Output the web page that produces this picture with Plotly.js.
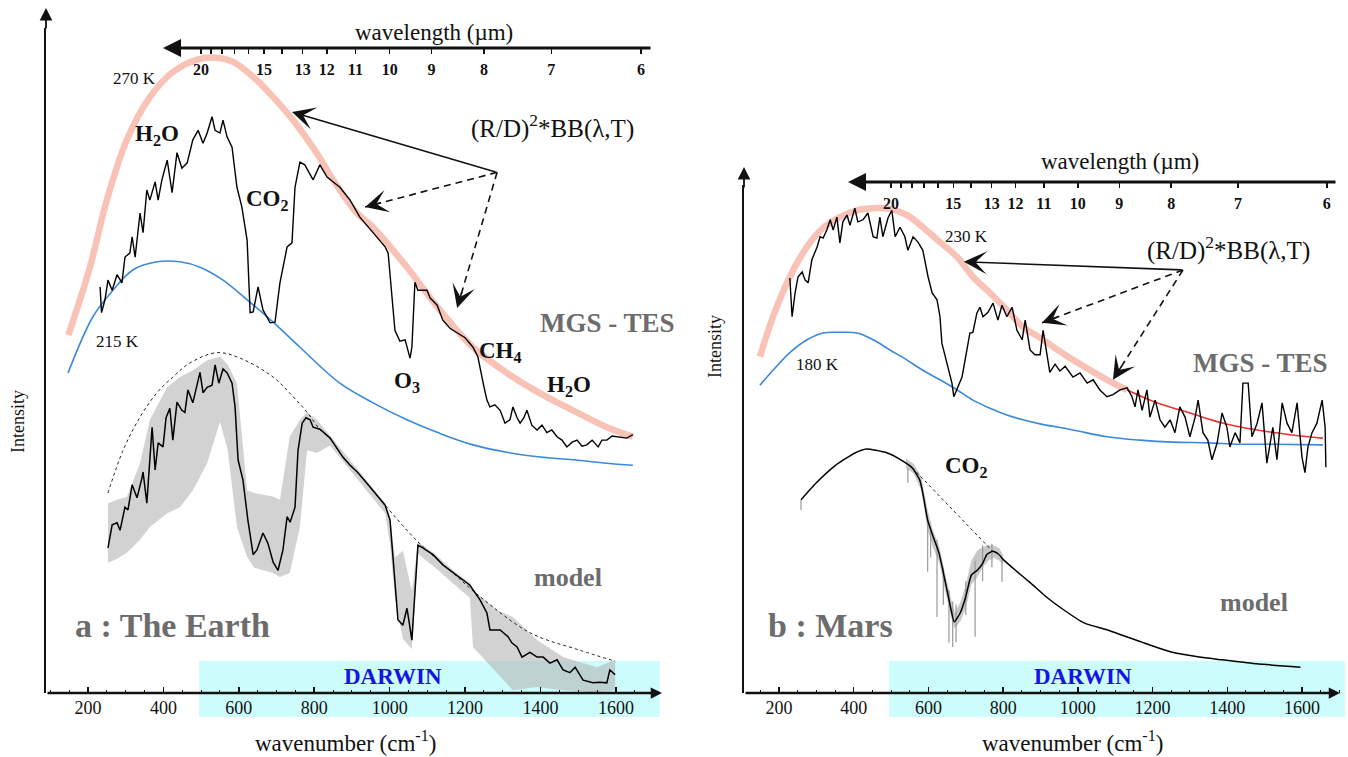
<!DOCTYPE html>
<html><head><meta charset="utf-8">
<script src="https://cdn.plot.ly/plotly-3.0.1.min.js"></script>
<style>html,body{margin:0;padding:0;background:#fff}</style>
</head><body><div id="chart" style="width:1348px;height:757px"></div>
<script>
// ---------------- Earth (panel a) ----------------
const earthBB270Wn = [148,205,250,303,364,425,488,541,585,638,691,744,807,850,913,956,1046,1133,1221,1311,1399,1486,1576,1645];
const earthBB270   = [52.8,62.8,72.7,81.6,87.9,91.6,93.4,93.7,93.1,90.9,87.9,84.5,79.6,75.7,70.8,68.7,62.8,56.5,51.0,47.2,44.2,41.7,39.2,37.8];
const earthBB215Wn = [147,213,266,319,383,444,497,558,622,691,762,868,956,1046,1133,1221,1311,1399,1486,1576,1645];
const earthBB215   = [47.2,55.5,59.4,62.4,63.6,63.6,62.8,60.9,58.0,54.7,51.0,45.7,42.8,40.3,38.3,36.6,35.5,34.8,34.4,33.9,33.6];
const earthTesWn = [232,236,245,253,264,277,290,298,311,317,325,338,346,356,364,378,386,396,410,423,436,449,463,478,492,505,516,529,537,550,558,569,582,595,608,622,630,638,651,664,683,696,709,728,741,749,762,775,797,815,834,868,895,921,956,988,996,1006,1014,1027,1041,1054,1059,1067,1075,1099,1107,1126,1141,1160,1179,1200,1221,1234,1248,1258,1266,1279,1293,1306,1319,1327,1338,1346,1356,1364,1377,1391,1404,1417,1430,1444,1457,1470,1484,1497,1510,1523,1537,1553,1563,1576,1590,1603,1616,1629,1645];
const earthTes   = [59.9,56.1,58.0,60.9,59.4,61.7,60.5,64.3,64.9,67.3,64.3,70.8,67.9,74.2,72.7,75.4,72.7,75.7,78.6,73.8,79.7,77.4,78.2,81.6,83.0,81.1,82.6,85.0,83.0,82.6,84.5,82.0,80.5,74.6,71.7,66.8,56.1,56.2,59.9,56.5,54.6,54.7,60.5,65.8,66.4,74.6,78.3,77.9,75.7,77.9,76.1,74.6,72.7,70.2,67.9,65.8,64.9,58.0,53.5,51.9,52.1,49.4,51.0,60.6,59.4,59.4,58.3,57.2,55.0,53.8,53.1,52.4,51.0,49.6,45.7,43.2,42.2,42.5,41.7,39.8,40.3,42.2,40.6,39.8,40.6,41.7,39.5,38.8,39.5,38.4,38.8,37.8,37.3,36.3,37.0,37.3,36.4,36.6,37.3,36.3,37.3,37.3,37.9,37.8,37.6,37.6,38.1];
const earthModelWn = [253,264,277,285,298,306,317,330,343,346,356,370,378,386,399,407,417,425,436,449,457,465,478,489,497,505,516,529,537,547,558,569,582,590,598,611,624,638,648,664,677,691,704,717,728,736,749,757,768,778,789,797,815,842,876,895,916,948,988,1001,1014,1022,1035,1046,1059,1067,1075,1088,1115,1141,1168,1195,1213,1240,1258,1266,1293,1314,1324,1338,1351,1372,1391,1407,1425,1444,1460,1478,1492,1513,1539,1558,1576,1584,1598];
const earthModel   = [21.4,24.8,25.1,24.0,27.4,27.0,30.7,28.8,31.7,32.6,28.0,39.2,32.9,36.9,36.3,40.6,42.0,37.3,42.9,41.7,41.4,44.7,42.8,45.7,47.3,44.3,45.1,45.4,48.4,45.7,47.8,47.2,45.7,42.2,34.4,31.4,25.5,20.4,21.1,23.6,22.1,19.3,18.1,21.1,26.0,25.2,27.4,35.8,39.8,40.6,40.3,39.2,38.9,37.6,34.8,33.6,32.5,30.4,27.7,25.5,16.7,10.8,10.0,12.5,7.8,14.2,21.8,21.4,20.4,18.9,17.8,16.7,15.9,13.7,11.8,9.3,9.3,8.3,7.4,6.8,5.3,6.0,5.3,5.3,4.4,4.9,3.4,3.0,3.8,1.9,1.5,1.6,1.5,3.4,2.7];
const earthEnvWn = [253,293,338,383,425,471,542,603,691,744,781,815,842,876,916,948,988,1075,1160,1240,1372,1505,1598];
const earthEnv   = [29.5,35.8,40.7,44.3,46.6,48.7,50.2,49.4,46.6,43.7,41.4,38.9,37.6,34.8,32.5,30.4,27.7,22.3,18.1,14.2,8.9,6.3,4.7];
const earthHiresWn = [253,277,303,338,364,410,444,478,516,550,570,595,622,640,690,709,735,762,781,807,842,900,988,1001,1014,1035,1059,1075,1120,1180,1213,1221,1285,1327,1391,1460,1550,1598];
const earthHiresHi = [28.0,28.5,28.9,33.9,40.3,45.1,46.6,47.6,49.1,49.6,48.5,45.7,29.9,29.5,29.0,28.5,37.8,40.3,41.4,40.3,38.0,34.0,28.0,26.0,20.0,21.0,15.0,22.3,20.5,17.5,16.3,15.2,12.2,11.2,7.8,5.3,3.8,4.9];
const earthHiresLo = [19.2,19.8,20.7,22.6,24.5,26.5,27.4,29.9,33.9,40.0,36.0,24.5,20.1,18.5,17.7,17.1,17.7,24.5,35.8,35.4,36.5,32.5,26.5,22.0,14.0,8.0,6.5,20.5,18.5,15.6,14.0,6.8,3.0,0.4,0.9,0.4,0.1,0.4];

// ---------------- Mars (panel b) ----------------
const marsBB230Wn = [149,184,229,275,318,363,409,452,497,543,585,631,677,719,765,810,853,899,979,1078,1132,1212,1300,1389,1480,1568,1656];
const marsBB230   = [49.6,55.5,61.4,65.8,68.6,70.2,71.2,71.5,71.4,70.5,68.7,66.5,64.3,61.4,59.0,56.5,54.0,52.4,49.4,46.2,44.7,42.8,41.3,39.8,38.8,38.1,37.6];
const marsBB180Wn = [149,184,229,275,318,363,409,452,497,543,585,631,677,719,765,810,853,899,987,1078,1166,1255,1346,1434,1522,1656];
const marsBB180   = [45.4,47.6,50.2,52.1,53.1,53.2,53.1,52.1,50.6,49.1,47.6,46.2,44.7,43.2,42.0,41.0,40.3,39.7,38.8,37.8,37.3,37.0,36.9,36.7,36.7,36.6];
const marsTesWn = [229,235,243,251,262,270,278,288,302,310,318,328,337,345,355,363,371,382,390,403,411,425,438,452,462,470,478,492,502,511,524,537,545,559,572,585,599,610,623,631,636,650,663,668,679,690,703,711,719,730,738,746,759,773,786,797,810,824,837,851,859,872,885,899,907,917,925,939,952,966,987,1006,1025,1041,1059,1078,1094,1113,1132,1145,1153,1161,1172,1185,1193,1207,1220,1233,1247,1260,1273,1287,1300,1314,1322,1335,1348,1359,1373,1386,1399,1407,1421,1434,1442,1456,1466,1480,1493,1506,1515,1522,1533,1547,1560,1573,1587,1600,1608,1616,1627,1640,1654,1662,1664];
const marsTes   = [61.2,55.5,59.0,61.4,62.1,60.9,60.5,63.9,65.8,67.3,67.1,68.3,69.8,68.3,70.2,66.4,69.5,70.5,69.0,71.5,69.5,69.8,70.8,67.3,67.1,70.2,67.3,70.1,71.2,67.3,68.7,67.3,65.3,67.3,66.5,65.3,61.4,59.0,58.0,55.5,51.6,48.7,45.7,43.7,45.1,46.6,50.6,53.1,53.2,56.1,56.9,55.5,56.1,57.5,55.0,57.2,55.5,56.9,53.5,52.1,55.0,50.6,49.9,49.9,53.5,49.9,47.3,48.5,47.5,48.2,46.6,47.2,45.7,46.2,44.7,43.7,44.0,44.7,45.0,43.7,42.2,44.7,41.7,44.7,40.7,43.2,40.3,39.2,40.3,38.4,42.2,40.7,37.8,40.7,43.2,38.4,37.3,34.4,36.9,41.3,39.2,36.3,38.4,36.9,45.7,45.7,37.8,39.8,42.8,33.9,36.9,39.2,34.4,42.8,39.8,38.4,42.8,34.8,32.5,36.3,38.4,39.8,43.2,39.2,33.3];
const marsModelWn = [259,300,352,403,434,485,526,557,577,587,598,613,628,644,659,669,685,700,715,731,746,756,772,787,802,833,874,915,956,1018,1079,1171,1253,1325,1386,1478,1596];
const marsModel   = [28.5,31.0,33.6,35.4,36.0,35.5,34.4,33.2,31.4,28.9,25.5,23.0,20.7,16.7,12.7,10.5,11.8,14.2,17.4,18.1,19.2,20.4,20.9,20.5,19.6,18.1,16.2,14.2,12.5,10.3,9.3,7.5,6.0,5.3,4.9,4.3,3.8];
const marsEnvWn = [557,772];
const marsEnv   = [33.2,20.9];
const marsHiresWn = [540,560,580,598,612,630,645,660,670,685,700,715,730,745,760,775,790,800];
const marsHiresHi = [34.6,33.8,32.0,27.0,24.0,21.5,17.5,13.8,11.8,13.3,16.0,19.5,21.0,21.5,21.8,21.8,21.3,20.3];
const marsHiresLo = [33.2,32.4,30.0,24.0,21.5,19.0,15.0,11.3,9.5,10.5,12.5,16.0,17.0,18.5,19.5,20.0,19.5,19.0];
const marsLineWn  = [259,545,598,606,623,640,655,665,674,700,725,745,770,797];
const marsLineTop = [28.5,33.2,25.5,24.5,22.6,18.5,15.2,13.5,13.0,16.5,19.5,21.8,22.0,19.6];
const marsLineBot = [27.0,31.0,17.9,20.0,11.2,13.0,7.4,6.8,7.5,11.5,8.3,16.5,18.5,16.4];

// wavelength scale (micrometres) and the DARWIN band (cm-1)
const wlMarks   = [20,19,18,17,16,15,14,13,12,11,10,9,8,7,6];
const wlLabeled = [20,15,13,12,11,10,9,8,7,6];
const darwinBand = [495,1716];

// ---------------- figure ----------------
const W = 1348, H = 757;
const FONT = 'Liberation Serif, "Times New Roman", Times, serif';
const GRAYTXT = '#6c6c6c';
const ORANGE = 'rgba(240,120,95,0.45)';
const BLUE = '#3a8ad8';

const xRangeL = [88.6, 1717], xRangeR = [106.3, 1715.2];
const xDomL = [46/W, 660/W], xDomR = [744/W, 1345/W];
const yRangeL = [0, 98.09], yRangeR = [0, 74.93];
const yDomL = [64/H, 729/H], yDomR = [64/H, 572/H];

const wlVals = wlMarks.map(l => 1e4 / l);
const wlText = wlMarks.map(l => wlLabeled.includes(l) ? '<b>' + l + '</b>' : '');

function ln(x, y, xa, ya, color, width, extra) {
  return Object.assign({type:'scatter', mode:'lines', x, y, xaxis:xa, yaxis:ya,
    line:{color, width}, hoverinfo:'skip', showlegend:false}, extra || {});
}
function band(x, lo, hi, xa, ya, fill) {
  return [
    ln(x, lo, xa, ya, 'rgba(0,0,0,0)', 0),
    ln(x, hi, xa, ya, 'rgba(0,0,0,0)', 0, {fill:'tonexty', fillcolor:fill})
  ];
}
const filt = (xs, ys, f) => { const X=[],Y=[]; xs.forEach((v,i)=>{ if(f(v)){X.push(v);Y.push(ys[i]);} }); return [X,Y]; };

const traces = [];
// Earth
traces.push(...band(earthHiresWn, earthHiresLo, earthHiresHi, 'x', 'y', 'rgba(180,180,180,0.6)'));
traces.push(ln(earthEnvWn, earthEnv, 'x', 'y', '#222', 1, {line:{color:'#222', width:1, dash:'dot', shape:'spline'}}));
traces.push(ln(earthModelWn, earthModel, 'x', 'y', '#000', 1.5));
traces.push(ln(earthBB270Wn, earthBB270, 'x', 'y', ORANGE, 6.5, {line:{color:ORANGE, width:6.5, shape:'spline'}}));
traces.push(ln(earthBB215Wn, earthBB215, 'x', 'y', BLUE, 1.6, {line:{color:BLUE, width:1.6, shape:'spline'}}));
traces.push(ln(earthTesWn, earthTes, 'x', 'y', '#000', 1.4));
// Mars
traces.push(...band(marsHiresWn, marsHiresLo, marsHiresHi, 'x2', 'y2', 'rgba(170,170,170,0.65)'));
traces.push({type:'scatter', mode:'markers', x:marsLineWn, y:marsLineTop, xaxis:'x2', yaxis:'y2',
  marker:{size:1, color:'rgba(0,0,0,0)'}, hoverinfo:'skip', showlegend:false,
  error_y:{type:'data', symmetric:false, array:marsLineTop.map(()=>0),
    arrayminus:marsLineTop.map((t,i)=>t - marsLineBot[i]), width:0, thickness:1.2, color:'#999'}});
traces.push(ln(marsEnvWn, marsEnv, 'x2', 'y2', '#222', 1, {line:{color:'#222', width:1, dash:'dot'}}));
traces.push(ln(marsModelWn, marsModel, 'x2', 'y2', '#000', 1.5, {line:{color:'#000', width:1.5, shape:'spline', smoothing:0.5}}));
const [mo230x, mo230y] = filt(marsBB230Wn, marsBB230, v => v <= 1132);
const [mr230x, mr230y] = filt(marsBB230Wn, marsBB230, v => v >= 1132);
traces.push(ln(mo230x, mo230y, 'x2', 'y2', ORANGE, 6.5, {line:{color:ORANGE, width:6.5, shape:'spline'}}));
traces.push(ln(mr230x, mr230y, 'x2', 'y2', '#ee3030', 1.6, {line:{color:'#ee3030', width:1.6, shape:'spline'}}));
traces.push(ln(marsBB180Wn, marsBB180, 'x2', 'y2', BLUE, 1.6, {line:{color:BLUE, width:1.6, shape:'spline'}}));
traces.push(ln(marsTesWn, marsTes, 'x2', 'y2', '#000', 1.4));
// carriers for the wavelength scales
traces.push({type:'scatter', mode:'markers', x:[wlVals[0]], y:[null], xaxis:'x3', yaxis:'y', marker:{opacity:0}, hoverinfo:'skip', showlegend:false});
traces.push({type:'scatter', mode:'markers', x:[wlVals[0]], y:[null], xaxis:'x4', yaxis:'y2', marker:{opacity:0}, hoverinfo:'skip', showlegend:false});

function mainX(domain, range, anchor) {
  return {domain, range, anchor, showline:false, showgrid:false, zeroline:false,
    ticks:'inside', ticklen:6, tickwidth:1.5, tickcolor:'#111',
    tickmode:'linear', tick0:0, dtick:200,
    minor:{ticks:'inside', ticklen:3, tickwidth:1, tickcolor:'#111', tick0:0, dtick:50},
    tickfont:{family:FONT, size:18, color:'#111'}, ticklabelstandoff:2, fixedrange:true};
}
function mainY(domain, range, anchor) {
  return {domain, range, anchor, showline:true, linewidth:1.8, linecolor:'#111', ticks:'',
    showticklabels:false, showgrid:false, zeroline:false, fixedrange:true};
}
function wlAxis(over, range, pos) {
  return {overlaying:over, anchor:'free', position:pos, side:'bottom', range,
    showline:false, showgrid:false, zeroline:false, ticks:'outside', ticklen:5, tickwidth:1.5,
    tickcolor:'#111', tickmode:'array', tickvals:wlVals, ticktext:wlText,
    tickfont:{family:FONT, size:16, color:'#111'}, ticklabelstandoff:2, fixedrange:true};
}

const ann = [];
function lab(xref, yref, x, y, text, size, color, extra) {
  ann.push(Object.assign({xref, yref, x, y, text, showarrow:false, xanchor:'center', yanchor:'middle',
    font:{family:FONT, size, color:color || '#111'}}, extra || {}));
}
function arrowPaper(xp, yp, ax, ay, width, size) {
  ann.push({xref:'paper', yref:'paper', x:xp/W, y:1 - yp/H, ax, ay, axref:'pixel', ayref:'pixel',
    text:'', showarrow:true, arrowhead:2, arrowwidth:width, arrowsize:size, arrowcolor:'#111'});
}
const shapes = [];
function callout(xa, ya, kx, V, solid, dashed) {
  ann.push({xref:xa, yref:ya, axref:xa, ayref:ya, x:solid[0], y:solid[1], ax:V[0], ay:V[1],
    text:'', showarrow:true, arrowhead:3, arrowsize:2.4, arrowwidth:1.6, arrowcolor:'#111'});
  dashed.forEach(h => {
    shapes.push({type:'line', xref:xa, yref:ya, x0:V[0], y0:V[1], x1:h[0], y1:h[1],
      line:{color:'#111', width:1.6, dash:'7px,5px'}});
    const len = Math.hypot((V[0]-h[0])*kx, (V[1]-h[1])*6.78);
    const f = 18 / len;
    ann.push({xref:xa, yref:ya, axref:xa, ayref:ya, x:h[0], y:h[1],
      ax:h[0] + f*(V[0]-h[0]), ay:h[1] + f*(V[1]-h[1]),
      text:'', showarrow:true, arrowhead:3, arrowsize:2.4, arrowwidth:1.6, arrowcolor:'#111'});
  });
}

// panel a labels
lab('x','y', 322, 90.7, '270 K', 17);
lab('x','y', 383, 82.3, '<b>H<sub>2</sub>O</b>', 23);
lab('x','y', 675, 72.7, '<b>CO<sub>2</sub></b>', 23);
lab('x','y', 1431, 83.5, '(R/D)<sup>2</sup>*BB(λ,T)', 25);
lab('x','y', 1579, 54.6, '<b>MGS - TES</b>', 27, GRAYTXT);
lab('x','y', 277, 51.8, '215 K', 17);
lab('x','y', 1046, 45.9, '<b>O<sub>3</sub></b>', 23);
lab('x','y', 1293, 50.3, '<b>CH<sub>4</sub></b>', 23);
lab('x','y', 1476, 45.3, '<b>H<sub>2</sub>O</b>', 23);
lab('x','y', 1473, 17.0, '<b>model</b>', 26, GRAYTXT);
lab('x','y', 425, 9.9, '<b>a : The Earth</b>', 34, GRAYTXT);
lab('x','y', 1009, 2.4, '<b>DARWIN</b>', 23, '#1414e6');
// panel b labels
lab('x2','y2', 701, 67.3, '230 K', 17);
lab('x2','y2', 1402, 65.5, '(R/D)<sup>2</sup>*BB(λ,T)', 25);
lab('x2','y2', 1490, 48.7, '<b>MGS - TES</b>', 27, GRAYTXT);
lab('x2','y2', 302, 48.4, '180 K', 17);
lab('x2','y2', 703, 33.3, '<b>CO<sub>2</sub></b>', 23);
lab('x2','y2', 1472, 13.3, '<b>model</b>', 26, GRAYTXT);
lab('x2','y2', 337, 9.9, '<b>b : Mars</b>', 34, GRAYTXT);
lab('x2','y2', 1014, 2.4, '<b>DARWIN</b>', 23, '#1414e6');
// axis titles
lab('paper','paper', 345/W, 1 - 741/H, 'wavenumber (cm<sup>-1</sup>)', 23);
lab('paper','paper', 1072/W, 1 - 741/H, 'wavenumber (cm<sup>-1</sup>)', 23);
lab('paper','paper', 18/W, 1 - 422/H, 'Intensity', 18, '#111', {textangle:-90});
lab('paper','paper', 715/W, 1 - 347/H, 'Intensity', 18, '#111', {textangle:-90});
lab('paper','paper', 434/W, 1 - 32/H, 'wavelength (µm)', 23);
lab('paper','paper', 1120/W, 1 - 162/H, 'wavelength (µm)', 23);

// axis arrows
arrowPaper(46, 8, 0, 22, 1.8, 1.4);     // y left
arrowPaper(744, 167, 0, 22, 1.8, 1.4);  // y right
arrowPaper(662, 693, -616, 0, 2.5, 0.9); // x left baseline
arrowPaper(1340, 693, -596, 0, 2.5, 0.9); // x right baseline
arrowPaper(163, 48, 489, 0, 3, 1.2);    // wavelength left
arrowPaper(848, 182, 489, 0, 3, 1.2);   // wavelength right

// callouts
callout('x', 'y', 0.3771, [1285, 76.8], [741, 85.7], [[935, 71.7], [1179, 56.8]]);
callout('x2', 'y2', 0.3736, [1281.5, 62.4], [695, 63.6], [[904, 54.6], [1094, 46.2]]);

// DARWIN bands
shapes.push({type:'rect', layer:'below', xref:'x', yref:'paper', x0:darwinBand[0], x1:darwinBand[1],
  y0:40/H, y1:96/H, fillcolor:'#ccfcfc', line:{width:0}});
shapes.push({type:'rect', layer:'below', xref:'x2', yref:'paper', x0:darwinBand[0], x1:darwinBand[1],
  y0:40/H, y1:96/H, fillcolor:'#ccfcfc', line:{width:0}});

const layout = {
  width:W, height:H, margin:{l:0, r:0, t:0, b:0}, showlegend:false,
  paper_bgcolor:'#fff', plot_bgcolor:'rgba(0,0,0,0)',
  font:{family:FONT, color:'#111'},
  xaxis: mainX(xDomL, xRangeL, 'y'),
  yaxis: mainY(yDomL, yRangeL, 'x'),
  xaxis2: mainX(xDomR, xRangeR, 'y2'),
  yaxis2: mainY(yDomR, yRangeR, 'x2'),
  xaxis3: wlAxis('x', xRangeL, 1 - 48/H),
  xaxis4: wlAxis('x2', xRangeR, 1 - 182/H),
  annotations: ann, shapes
};
Plotly.newPlot('chart', traces, layout, {displayModeBar:false, staticPlot:true});
</script></body></html>
